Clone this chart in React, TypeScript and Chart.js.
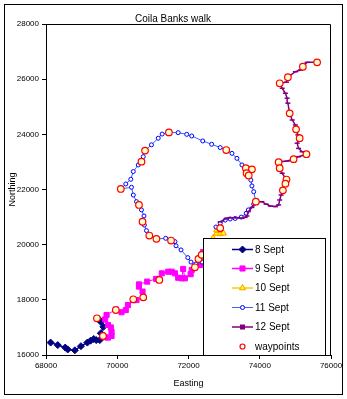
import React, { useEffect, useRef } from 'react';
import { Chart, registerables } from 'chart.js';
import { drawPoint } from 'chart.js/helpers';

Chart.register(...registerables);

const FONT = '"Liberation Sans", Arial, sans-serif';

const TITLE = 'Coila Banks walk';
const X_TICKS = [68000, 70000, 72000, 74000, 76000];
const Y_TICKS = [16000, 18000, 20000, 22000, 24000, 26000, 28000];

const SERIES_NAMES = ['8 Sept', '9 Sept', '10 Sept', '11 Sept', '12 Sept', 'waypoints'];

const EAST_8 = [68130, 68330, 68540, 68610, 68810, 68980, 69160, 69250, 69340, 69410, 69510, 69540, 69610, 69540, 69490];
const NORTH_8 = [16450, 16360, 16270, 16200, 16170, 16320, 16450, 16520, 16580, 16540, 16540, 16790, 17020, 17200, 17290];

const EAST_9 = [69650, 69740, 69840, 69840, 69820, 69740, 69660, 69700, 69960, 70120, 70240, 70300, 70450, 70540, 70730, 70710, 70610, 70610, 70840, 71090, 71180, 71250, 71430, 71530, 71620, 71710, 71810, 71850, 71900, 72060, 72090, 72180, 72320, 72350, 72410];
const NORTH_9 = [16650, 16630, 16690, 16840, 17000, 17090, 17290, 17450, 17650, 17550, 17630, 17810, 17990, 17990, 18090, 18300, 18480, 18560, 18660, 18760, 18740, 18960, 19020, 19020, 18960, 18800, 18780, 19120, 18780, 18930, 19080, 19180, 19260, 19520, 19730];

const EAST_10 = [72410, 72490, 72610, 72690, 72790, 72890, 72980, 72840, 72790, 72890];
const NORTH_10 = [19520, 19810, 20060, 20240, 20410, 20390, 20410, 20510, 20530, 20650];

const EAST_11 = [72380, 72210, 72070, 71980, 71790, 71650, 71620, 71510, 71360, 71100, 70900, 70820, 70760, 70710, 70750, 70680, 70610, 70540, 70450, 70400, 70100, 70240, 70380, 70450, 70590, 70680, 70730, 70780, 70960, 71150, 71260, 71450, 71710, 71950, 72090, 72400, 72650, 72890, 73060, 73220, 73360, 73500, 73610, 73680, 73750, 73780, 73830, 73890, 73830, 73680, 73620, 73480, 73310, 73170, 73030, 72890, 72770];
const NORTH_11 = [19370, 19300, 19370, 19530, 19810, 19960, 20110, 20150, 20230, 20210, 20330, 20510, 20710, 20830, 21040, 21260, 21440, 21560, 21800, 22080, 22020, 22200, 22370, 22650, 22890, 23010, 23190, 23410, 23620, 23860, 24010, 24070, 24060, 24000, 23940, 23760, 23640, 23520, 23430, 23310, 23130, 22890, 22770, 22530, 22340, 22130, 21920, 21560, 21470, 21260, 21140, 21000, 20950, 20930, 20890, 20770, 20640];

const EAST_12 = [72890, 73080, 73170, 73360, 73500, 73590, 73640, 73680, 73780, 73890, 74060, 74180, 74300, 74440, 74530, 74560, 74600, 74650, 74720, 74730, 74630, 74560, 74560, 74770, 74950, 75090, 75310, 75190, 75090, 75050, 75120, 75070, 75020, 75000, 74910, 74840, 74790, 74770, 74720, 74630, 74560, 74750, 74790, 75000, 75140, 75210, 75330, 75610];
const NORTH_12 = [20830, 20960, 20980, 20980, 20960, 20990, 21040, 21200, 21350, 21560, 21560, 21470, 21400, 21380, 21440, 21620, 21800, 21980, 22220, 22380, 22590, 22770, 23010, 23030, 23100, 23190, 23280, 23370, 23490, 23680, 23860, 23980, 24180, 24340, 24520, 24760, 25130, 25310, 25490, 25670, 25850, 25890, 26070, 26270, 26330, 26450, 26610, 26610];

const EAST_WP = [69430, 69600, 69960, 70450, 70730, 71180, 72180, 72280, 72370, 70900, 71100, 71510, 70710, 70610, 70100, 70680, 70780, 71450, 73060, 73610, 73780, 73630, 73690, 73890, 72890, 75610, 75210, 74790, 74560, 74840, 75020, 75120, 75310, 74950, 74530, 74560, 74750, 74720, 74650];
const NORTH_WP = [17330, 16690, 17630, 18020, 18090, 18720, 19180, 19480, 19630, 20330, 20210, 20150, 20830, 21440, 22020, 23010, 23410, 24070, 23430, 22770, 22730, 22590, 22510, 21560, 20600, 26610, 26450, 26070, 25850, 24760, 24180, 23860, 23280, 23100, 22990, 22770, 22360, 22210, 21970];

const pts = (e: number[], n: number[]) => e.map((x, i) => ({ x, y: n[i] }));

type Sty = { line: string | null; lineWidth: number; ps: any; r: number; bg: string; bd: string; bw: number };
const STYLES: Sty[] = [
  { line: '#000080', lineWidth: 1.5, ps: 'rectRot', r: 3.5, bg: '#000080', bd: '#000080', bw: 1 },
  { line: '#FF00FF', lineWidth: 1, ps: 'rect', r: 3.6, bg: '#FF00FF', bd: '#FF00FF', bw: 1 },
  { line: '#FFCC00', lineWidth: 1.2, ps: 'triangle', r: 3.5, bg: '#FFFF00', bd: '#FF9900', bw: 1 },
  { line: '#3366FF', lineWidth: 1, ps: 'circle', r: 2, bg: '#FFFFFF', bd: '#0000FF', bw: 1 },
  { line: '#800080', lineWidth: 1.5, ps: 'line', r: 2.5, bg: '#800080', bd: '#800080', bw: 1.5 },
  { line: null, lineWidth: 0, ps: 'circle', r: 3.3, bg: '#FFFFCC', bd: '#FF0000', bw: 1.2 },
];

export default function App() {
  const ref = useRef<HTMLCanvasElement>(null);
  useEffect(() => {
    document.body.style.margin = '0';
    const seriesData = [
      pts(EAST_8, NORTH_8),
      pts(EAST_9, NORTH_9),
      pts(EAST_10, NORTH_10),
      pts(EAST_11, NORTH_11),
      pts(EAST_12, NORTH_12),
      pts(EAST_WP, NORTH_WP),
    ];
    const datasets = seriesData.map((d, i) => {
      const s = STYLES[i];
      return {
        label: SERIES_NAMES[i],
        data: d,
        showLine: s.line !== null,
        borderColor: s.line ?? s.bd,
        borderWidth: s.lineWidth,
        backgroundColor: s.bg,
        pointStyle: s.ps,
        pointRadius: s.r,
        pointBorderColor: s.bd,
        pointBackgroundColor: s.bg,
        pointBorderWidth: s.bw,
        pointHoverRadius: s.r,
        tension: 0,
        fill: false,
        order: i === 5 ? 0 : 6 - i,
      };
    });

    const frame = {
      id: 'frame',
      beforeDraw(chart: any) {
        const ctx = chart.ctx;
        ctx.save();
        ctx.fillStyle = '#fff';
        ctx.fillRect(0, 0, chart.width, chart.height);
        ctx.restore();
      },
      afterDraw(chart: any) {
        const ctx = chart.ctx;
        const a = chart.chartArea;
        ctx.save();
        ctx.strokeStyle = '#000';
        ctx.lineWidth = 1;
        // plot area top & right
        ctx.beginPath();
        ctx.moveTo(Math.round(a.left) + 0.5, Math.round(a.top) + 0.5);
        ctx.lineTo(Math.round(a.right) - 0.5, Math.round(a.top) + 0.5);
        ctx.lineTo(Math.round(a.right) - 0.5, Math.round(a.bottom) + 0.5);
        ctx.stroke();
        // outer border
        ctx.strokeRect(4.5, 4.5, 338, 390);
        // title
        ctx.fillStyle = '#000';
        ctx.font = `10px ${FONT}`;
        ctx.textAlign = 'center';
        ctx.textBaseline = 'middle';
        ctx.fillText(TITLE, 173, 19.5);
        // legend
        const bx = 203.5, by = 238.5, bw = 122, bh = 117;
        ctx.fillStyle = '#fff';
        ctx.fillRect(bx, by, bw, bh);
        ctx.strokeRect(bx, by, bw, bh);
        const rows = [249.5, 268.5, 288, 307.5, 327, 346.5];
        SERIES_NAMES.forEach((name, i) => {
          const s = STYLES[i];
          const y = rows[i];
          if (s.line) {
            ctx.strokeStyle = s.line;
            ctx.lineWidth = i === 3 ? 1 : 1.5;
            ctx.beginPath();
            ctx.moveTo(232, y);
            ctx.lineTo(253, y);
            ctx.stroke();
          }
          ctx.fillStyle = i === 5 ? '#FFFFFF' : s.bg;
          ctx.strokeStyle = s.bd;
          ctx.lineWidth = s.bw;
          const ps = i === 4 ? 'rect' : s.ps;
          const r = i === 5 ? 2.5 : i === 4 ? 2.5 : s.r;
          drawPoint(ctx, { pointStyle: ps, radius: r, rotation: 0, borderWidth: s.bw } as any, 242.5, y);
          ctx.fillStyle = '#000';
          ctx.font = `10px ${FONT}`;
          ctx.textAlign = 'left';
          ctx.textBaseline = 'middle';
          ctx.fillText(name, 255, y + 0.5);
        });
        ctx.restore();
      },
    };

    const chart = new Chart(ref.current!, {
      type: 'scatter',
      data: { datasets: datasets as any },
      options: {
        responsive: false,
        animation: false,
        devicePixelRatio: 1,
        layout: { padding: { left: 0, right: 16, top: 24, bottom: 0 } },
        plugins: { legend: { display: false }, tooltip: { enabled: false }, title: { display: false } },
        events: [],
        scales: {
          x: {
            type: 'linear',
            min: X_TICKS[0],
            max: X_TICKS[X_TICKS.length - 1],
            afterBuildTicks: (s: any) => { s.ticks = X_TICKS.map((v) => ({ value: v })); },
            afterFit: (s: any) => { s.height = 44; },
            ticks: { color: '#000', font: { family: FONT, size: 8 }, padding: 2, maxRotation: 0, autoSkip: false, callback: (v: any) => String(v) },
            grid: { drawOnChartArea: false, drawTicks: true, tickLength: 4, color: '#000' },
            border: { display: true, color: '#000', width: 1 },
            title: { display: true, text: 'Easting', color: '#000', font: { family: FONT, size: 9 }, padding: { top: 0, bottom: 10 } },
          },
          y: {
            type: 'linear',
            min: Y_TICKS[0],
            max: Y_TICKS[Y_TICKS.length - 1],
            afterBuildTicks: (s: any) => { s.ticks = Y_TICKS.map((v) => ({ value: v })); },
            afterFit: (s: any) => { s.width = 46; },
            ticks: { color: '#000', font: { family: FONT, size: 8 }, padding: 3, autoSkip: false, callback: (v: any) => String(v) },
            grid: { drawOnChartArea: false, drawTicks: true, tickLength: 4, color: '#000' },
            border: { display: true, color: '#000', width: 1 },
            title: { display: true, text: 'Northing', color: '#000', font: { family: FONT, size: 9 }, padding: { top: 7, bottom: 0 } },
          },
        },
      },
      plugins: [frame],
    });
    return () => chart.destroy();
  }, []);
  return (
    <div style={{ position: 'absolute', left: 0, top: 0, width: 347, height: 399 }}>
      <canvas ref={ref} width={347} height={399} style={{ display: 'block' }} />
    </div>
  );
}
